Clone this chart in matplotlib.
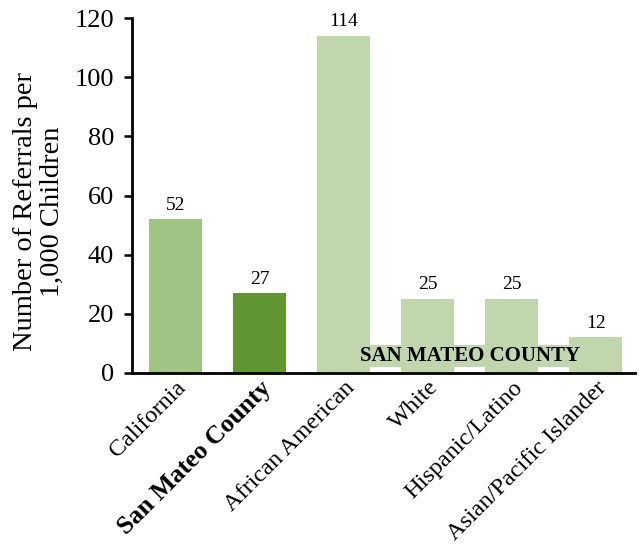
import matplotlib
matplotlib.use("Agg")
import matplotlib.pyplot as plt
from matplotlib.patches import Rectangle

categories = ["California", "San Mateo County", "African American", "White",
              "Hispanic/Latino", "Asian/Pacific Islander"]
values = [52, 27, 114, 25, 25, 12]
colors = ["#a0c483", "#609733", "#c0d7ae", "#c0d7ae", "#c0d7ae", "#c0d7ae"]
yticks = [0, 20, 40, 60, 80, 100, 120]

plt.rcParams["font.family"] = ["Liberation Serif", "DejaVu Serif"]

fig = plt.figure(figsize=(6.41, 5.5), dpi=100)
ax = fig.add_axes([0.206, 0.322, 0.784, 0.645])

x = list(range(len(categories)))
ax.bar(x, values, width=0.63, color=colors, zorder=2)

for xi, v in zip(x, values):
    ax.annotate(f"{v}", (xi, v), xytext=(0, 4), textcoords="offset points",
                ha="center", va="bottom", fontsize=14)

# band labelling the county breakdown by race/ethnicity
ax.add_patch(Rectangle((1.685, 2.0), 3.4, 7.5, facecolor="#c0d7ae",
                       edgecolor="none", zorder=3))
ax.text(3.5, 5.8, "SAN MATEO COUNTY", ha="center", va="center",
        fontsize=15, fontweight="bold", zorder=4)

ax.set_xlim(-0.52, 5.46)
ax.set_ylim(0, 120)
ax.set_yticks(yticks)
ax.tick_params(axis="y", labelsize=19, length=6, width=1.8, direction="out",
               pad=7)
ax.tick_params(axis="x", length=0, pad=3)
ax.set_xticks(x)
ax.set_xticklabels(categories, rotation=45, ha="right", rotation_mode="anchor",
                   fontsize=17.5)
county_label = ax.get_xticklabels()[1]
county_label.set_fontweight("bold")
county_label.set_fontsize(18.5)

for s in ["top", "right"]:
    ax.spines[s].set_visible(False)
for s in ["left", "bottom"]:
    ax.spines[s].set_linewidth(2)
    ax.spines[s].set_color("black")

ax.set_ylabel("Number of Referrals per\n1,000 Children", fontsize=20.5,
              linespacing=1.1)
ax.yaxis.set_label_coords(-0.133, 0.454)

fig.savefig("out.png", dpi=100)
